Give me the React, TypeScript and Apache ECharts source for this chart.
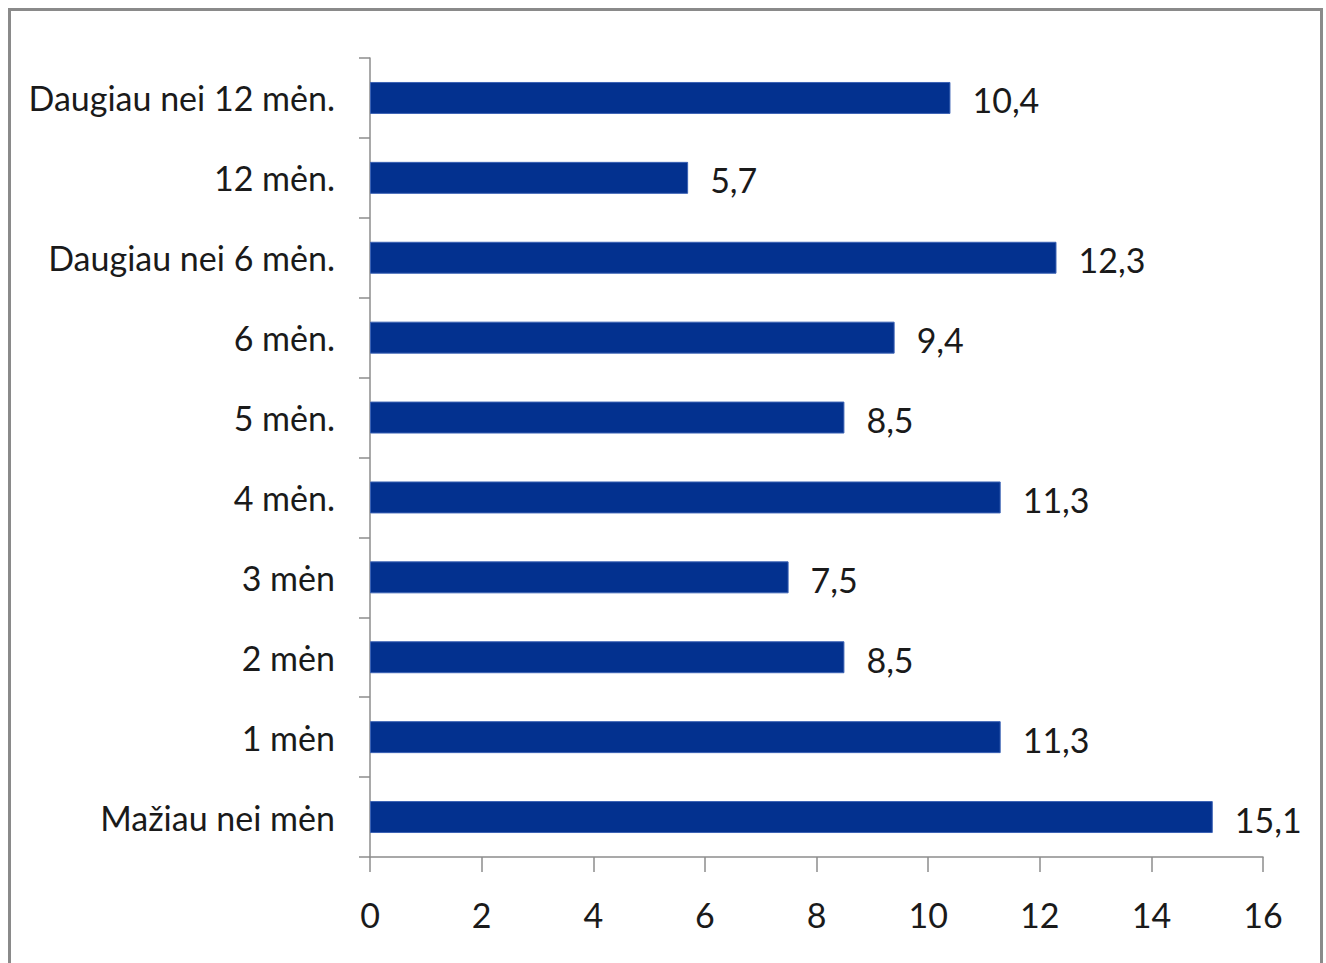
import React, { useEffect, useRef } from "react";
import * as echarts from "echarts";

// Categories listed bottom-up, as the category axis draws them
const categories = [
  "Mažiau nei mėn",
  "1 mėn",
  "2 mėn",
  "3 mėn",
  "4 mėn.",
  "5 mėn.",
  "6 mėn.",
  "Daugiau nei 6 mėn.",
  "12 mėn.",
  "Daugiau nei 12 mėn.",
];
const values = [15.1, 11.3, 8.5, 7.5, 11.3, 8.5, 9.4, 12.3, 5.7, 10.4];
const xMin = 0;
const xMax = 16;
const xStep = 2;

const FONT = "Lato, 'Liberation Sans', sans-serif";
const FONT_SIZE = 34;
const TEXT = "#1a1a1a";
const AXIS = "#8c8c8c";

const comma = (v: number) => String(v).replace(".", ",");

export default function App() {
  const ref = useRef<HTMLDivElement>(null);

  useEffect(() => {
    if (!ref.current) return;
    const chart = echarts.init(ref.current, undefined, { renderer: "svg" });
    chart.setOption({
      animation: false,
      backgroundColor: "#ffffff",
      graphic: [
        {
          type: "rect",
          shape: { x: 9.5, y: 9.5, width: 1312, height: 1000 },
          style: { fill: "none", stroke: "#8a8a8a", lineWidth: 3 },
          silent: true,
        },
      ],
      grid: {
        left: 370,
        right: 63,
        top: 58,
        bottom: 106,
        containLabel: false,
        outerBoundsMode: "none",
      },
      xAxis: {
        type: "value",
        min: xMin,
        max: xMax,
        interval: xStep,
        axisLine: { show: true, lineStyle: { color: AXIS, width: 1.5 } },
        axisTick: { show: true, length: 15, lineStyle: { color: AXIS, width: 1.5 } },
        splitLine: { show: false },
        axisLabel: {
          margin: 40,
          fontFamily: FONT,
          fontSize: FONT_SIZE,
          color: TEXT,
          formatter: (v: number) => comma(v),
        },
      },
      yAxis: {
        type: "category",
        data: categories,
        axisLine: { show: true, lineStyle: { color: AXIS, width: 1.5 } },
        axisTick: { show: true, length: 11, lineStyle: { color: AXIS, width: 1.5 } },
        axisLabel: {
          margin: 35,
          fontFamily: FONT,
          fontSize: FONT_SIZE,
          color: TEXT,
        },
      },
      series: [
        {
          type: "bar",
          data: values,
          barCategoryGap: "60%",
          itemStyle: { color: "#03318f", borderColor: "#3b62b4", borderWidth: 1 },
          label: {
            show: true,
            position: "right",
            distance: 22,
            offset: [0, 2],
            fontFamily: FONT,
            fontSize: FONT_SIZE,
            color: TEXT,
            formatter: (p: any) => comma(p.value),
          },
        },
      ],
    });
    return () => chart.dispose();
  }, []);

  return (
    <div
      ref={ref}
      style={{ position: "absolute", left: 0, top: 0, width: 1326, height: 963 }}
    />
  );
}
